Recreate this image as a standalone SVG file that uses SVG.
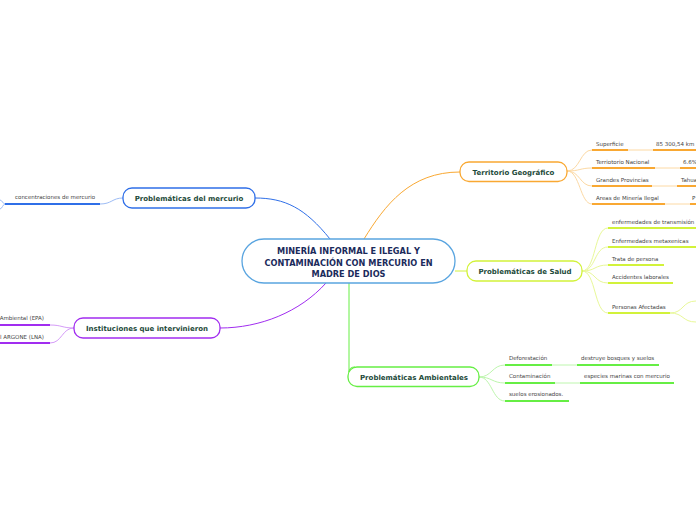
<svg xmlns="http://www.w3.org/2000/svg" width="696" height="520" viewBox="0 0 696 520">
<style>
.node{fill:#fff;stroke-width:1.3}
.t{font-family:"DejaVu Sans",Verdana,sans-serif;font-weight:bold;font-size:7px;fill:#1d4a3a;text-anchor:middle}
.c{font-family:"DejaVu Sans",Verdana,sans-serif;font-weight:bold;font-size:8.2px;fill:#1b2b5b;text-anchor:middle}
.l{font-family:"DejaVu Sans",Verdana,sans-serif;font-size:5.5px;fill:#444}
.con{fill:none;stroke-width:1}
.ul{fill:none;stroke-width:1.8}
.o{stroke:#f9a832}.ol{stroke:#fcd9a4}
.y{stroke:#d2f23a}.yl{stroke:#e8f898}
.g{stroke:#66ee44}.gl{stroke:#bdf6ad}
.b{stroke:#2f6fe8}.bl{stroke:#9dbcf5}
.p{stroke:#a12df0}.pl{stroke:#d59cf8}
</style>
<g id="connectors">
<path class="con o" stroke-width="1.2" d="M364 239 C385 205 410 172 460 172"/>
<path class="con b" stroke-width="1.2" d="M330 239 C305 208 285 198 255 198"/>
<path class="con y" stroke-width="1.2" d="M455 271 L467 271"/>
<path class="con p" stroke-width="1.2" d="M326 283 C300 312 260 328 220 328"/>
<path class="con g" stroke-width="1.2" d="M349 283 L349 372 Q349 367 355 367"/>
<path class="con ol" d="M567 171 C580 171 580 150 592 150 M567 171 C580 171 580 168 592 168 M567 171 C580 171 580 186 592 186 M567 171 C580 171 580 204 592 204"/>
<path class="con ol" stroke-width="1.6" d="M628 150 L653 150 M655 168 L680 168 M652 186 L677 186 M665 204 L690 204"/>
<path class="con yl" d="M582 271 C596 271 594 228 608 228 M582 271 C596 271 594 247 608 247 M582 271 C596 271 594 265 608 265 M582 271 C596 271 594 283 608 283 M582 271 C596 271 594 313 608 313 M670 313 C684 313 682 301 696 301 M670 313 C684 313 682 322 696 322"/>
<path class="con gl" d="M479 377 C492 377 492 365 505 365 M479 377 C492 377 492 383 505 383 M479 377 C492 377 492 401 505 401"/>
<path class="con gl" stroke-width="1.6" d="M552 365 L577 365 M555 383 L580 383"/>
<path class="con bl" d="M123 198 C112 198 112 204 100 204 M5 204 C3 204 2 200 0 200 M5 204 C3 204 2 209 0 209"/>
<path class="con pl" d="M74 328 C62 328 62 325 50 325 M74 328 C62 328 62 343 50 343"/>
</g>
<g id="center">
<rect class="node" x="242" y="239" width="213" height="44" rx="22" stroke="#5aa5e0"/>
<text class="c" x="348.5" y="254">MINERÍA INFORMAL E ILEGAL Y</text>
<text class="c" x="348.5" y="265.5">CONTAMINACIÓN CON MERCURIO EN</text>
<text class="c" x="348.5" y="276.5">MADRE DE DIOS</text>
</g>
<g id="territorio">
<rect class="node o" x="460" y="162" width="107" height="19.5" rx="9"/>
<text class="t" x="513.5" y="174.5">Territorio Geográfico</text>
</g>
<g id="territorio-leaves">
<path class="ul o" d="M592 150 L628 150 M653 150 L696 150 M592 168 L655 168 M680 168 L696 168 M592 186 L652 186 M677 186 L696 186 M592 204 L665 204 M690 204 L696 204"/>
<text class="l" x="596" y="146">Superficie</text>
<text class="l" x="656" y="146">85 300,54 km</text>
<text class="l" x="596" y="164">Terriotorio Nacional</text>
<text class="l" x="683" y="164">6.6%</text>
<text class="l" x="596" y="182">Grandes Provincias</text>
<text class="l" x="681" y="182">Tahua</text>
<text class="l" x="596" y="200">Areas de Minería Ilegal</text>
<text class="l" x="692" y="200">P</text>
</g>
<g id="salud">
<rect class="node y" x="467" y="261" width="115" height="20" rx="9"/>
<text class="t" x="525" y="274">Problemáticas de Salud</text>
</g>
<g id="salud-leaves">
<path class="ul y" d="M608 228 L696 228 M608 247 L696 247 M608 265 L664 265 M608 283 L673 283 M608 313 L670 313"/>
<text class="l" x="612" y="224">enfermedades de transmisión</text>
<text class="l" x="612" y="243">Enfermedades metaxenicas</text>
<text class="l" x="612" y="261">Trata de persona</text>
<text class="l" x="612" y="279">Accidentes laborales</text>
<text class="l" x="612" y="309">Personas Afectadas</text>
</g>
<g id="ambientales">
<rect class="node g" x="348" y="367" width="131" height="19.5" rx="9"/>
<text class="t" x="414" y="380">Problemáticas Ambientales</text>
</g>
<g id="ambientales-leaves">
<path class="ul g" d="M505 365 L552 365 M577 365 L659 365 M505 383 L555 383 M580 383 L674 383 M505 401 L569 401"/>
<text class="l" x="509" y="360">Deforestación</text>
<text class="l" x="581" y="360">destruye bosques y suelos</text>
<text class="l" x="509" y="378">Contaminación</text>
<text class="l" x="584" y="378">especies marinas con mercurio</text>
<text class="l" x="509" y="396">suelos erosionados.</text>
</g>
<g id="mercurio">
<rect class="node b" x="123" y="188" width="132" height="20" rx="9"/>
<text class="t" x="189" y="201">Problemáticas del mercurio</text>
</g>
<g id="mercurio-leaves">
<path class="ul b" d="M5 204 L100 204"/>
<text class="l" x="15" y="199">concentraciones de mercurio</text>
</g>
<g id="instituciones">
<rect class="node p" x="74" y="318" width="146" height="20" rx="9"/>
<text class="t" x="147" y="331">Instituciones que intervinieron</text>
</g>
<g id="instituciones-leaves">
<path class="ul p" d="M0 325 L50 325 M0 343 L50 343"/>
<text class="l" x="44" y="320" text-anchor="end">Ambiental (EPA)</text>
<text class="l" x="44" y="339" text-anchor="end">l ARGONE (LNA)</text>
</g>
</svg>
